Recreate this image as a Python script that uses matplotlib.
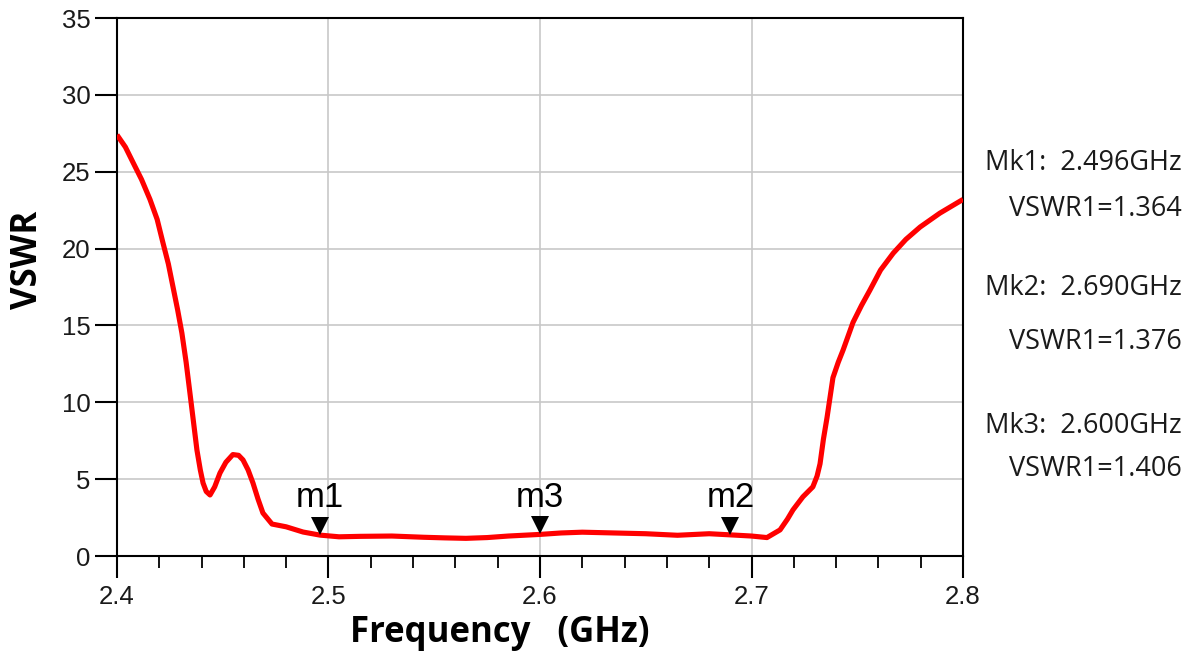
import numpy as np
import matplotlib
matplotlib.use("Agg")
import matplotlib.pyplot as plt
from matplotlib.ticker import MultipleLocator
from matplotlib.transforms import offset_copy

plt.rcParams["font.family"] = ["Liberation Sans", "DejaVu Sans"]

# curve
freq = [2.400, 2.404, 2.4076, 2.4116, 2.4156, 2.4190, 2.4217, 2.4243, 2.4265,
        2.4287, 2.4307, 2.4327, 2.4345, 2.4362, 2.4378, 2.4394, 2.4407, 2.4422,
        2.444, 2.4462, 2.4487, 2.4515, 2.4548, 2.4575, 2.4596, 2.4620, 2.4643,
        2.4667, 2.469, 2.4733, 2.480, 2.488,
        2.496, 2.505, 2.515, 2.530, 2.545, 2.555, 2.565, 2.575, 2.585, 2.600,
        2.610, 2.620, 2.635, 2.650, 2.665, 2.680, 2.690, 2.700, 2.7073,
        2.7135, 2.7170, 2.7196, 2.7243, 2.729, 2.7310, 2.7324, 2.7340, 2.7357,
        2.7385, 2.7410, 2.7433, 2.748, 2.752, 2.756, 2.761, 2.767, 2.773,
        2.7797, 2.789, 2.800]
vswr = [27.4, 26.6, 25.6, 24.5, 23.2, 21.9, 20.4, 19.0, 17.5,
        16.0, 14.5, 12.6, 10.6, 8.7, 6.9, 5.6, 4.75, 4.2,
        3.97, 4.5, 5.4, 6.1, 6.6, 6.55, 6.25, 5.6, 4.75,
        3.7, 2.8, 2.08, 1.9, 1.56,
        1.36, 1.25, 1.28, 1.3, 1.22, 1.18, 1.15, 1.2, 1.3, 1.406,
        1.5, 1.55, 1.5, 1.45, 1.35, 1.45, 1.376, 1.3, 1.2,
        1.7, 2.4, 3.0, 3.85, 4.5, 5.2, 6.0, 7.6, 9.0,
        11.6, 12.6, 13.4, 15.2, 16.3, 17.3, 18.6, 19.7, 20.6,
        21.4, 22.3, 23.2]

marker_names = ["m1", "m2", "m3"]
marker_freq = [2.496, 2.690, 2.600]
marker_vswr = [1.364, 1.376, 1.406]

fig = plt.figure(figsize=(11.96, 6.57), dpi=100)
ax = fig.add_axes([0.0978, 0.1537, 0.7074, 0.8189])

ax.plot(freq, vswr, color="#ff0000", lw=3.7, solid_joinstyle="round",
        solid_capstyle="butt", zorder=3)

# marker triangles sit with their tip on the curve
ms = 13
tri_tf = offset_copy(ax.transData, fig=fig, x=0, y=ms / 2, units="points")
for name, f, v in zip(marker_names, marker_freq, marker_vswr):
    ax.plot(f, v, marker="v", color="black", ms=ms, mew=0, transform=tri_tf,
            zorder=4, clip_on=False)
    ax.annotate(name, (f, v), xytext=(0, 20), textcoords="offset points",
                ha="center", va="baseline", fontsize=25)

ax.set_xlim(2.4, 2.8)
ax.set_ylim(0, 35)
ax.xaxis.set_major_locator(MultipleLocator(0.1))
ax.xaxis.set_minor_locator(MultipleLocator(0.02))
ax.yaxis.set_major_locator(MultipleLocator(5))
ax.grid(True, which="major", color="#c8c8c8", lw=1.2)
ax.set_axisbelow(True)
for s in ax.spines.values():
    s.set_linewidth(1.5)
ax.tick_params(which="major", length=16, width=1.5, labelsize=18.5,
               labelcolor="#1a1a1a")
ax.tick_params(axis="x", which="major", pad=5)
ax.tick_params(axis="y", which="major", pad=3)
ax.tick_params(which="minor", length=8.5, width=1.3)

ax.set_xlabel("Frequency   (GHz)", fontsize=25, fontweight="bold", family="Open Sans")
ax.set_ylabel("VSWR", fontsize=25, fontweight="bold", family="Open Sans")
ax.xaxis.set_label_coords(0.452, -0.11)
ax.yaxis.set_label_coords(-0.084, 0.55)

# marker readout on the right
readout_y = [(0.752, 0.682), (0.562, 0.48), (0.352, 0.286)]
for i, (f, v) in enumerate(zip(marker_freq, marker_vswr)):
    y1, y2 = readout_y[i]
    fig.text(0.988, y1, f"Mk{i+1}:  {f:.3f}GHz", ha="right", va="center",
             fontsize=19.5, family="Open Sans", color="#1a1a1a")
    fig.text(0.988, y2, f"VSWR1={v:.3f}", ha="right", va="center",
             fontsize=19.5, family="Open Sans", color="#1a1a1a")

fig.savefig("out.png", dpi=100)
